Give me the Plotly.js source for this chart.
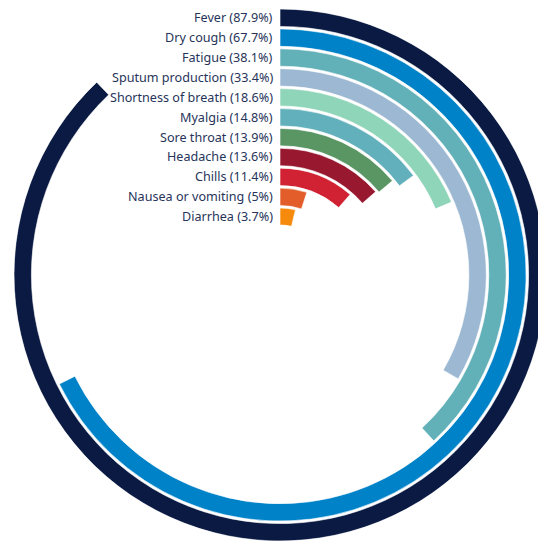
<!DOCTYPE html>
<html>
<head>
<meta charset="utf-8">
<script src="https://cdn.plot.ly/plotly-3.0.1.min.js"></script>
<style>
  html, body { margin: 0; padding: 0; overflow: hidden; background: #fff; }
  #chart { width: 560px; height: 542px; }
</style>
</head>
<body>
<div id="chart"></div>
<script>
// Symptom prevalence, outermost ring first
const symptoms = ["Fever", "Dry cough", "Fatigue", "Sputum production", "Shortness of breath",
  "Myalgia", "Sore throat", "Headache", "Chills", "Nausea or vomiting", "Diarrhea"];
const percents = [87.9, 67.7, 38.1, 33.4, 18.6, 14.8, 13.9, 13.6, 11.4, 5, 3.7];
const colors = ["#0a1a42", "#0082c8", "#62b0b8", "#9db8d3", "#8fd5b9",
  "#62b0bb", "#5a9664", "#98192f", "#d12233", "#e35d2a", "#f58a0c"];

// Ring geometry (in radial-axis units, which equal pixels here)
const W = 560, H = 542;
const cx = 280, cy = 275;
const outerR = 266, innerR = 50;
const pitch = 19.9, thick = 17.4;

const traces = symptoms.map((name, i) => {
  const outer = outerR - i * pitch;
  return {
    type: "barpolar",
    name: name,
    r: [thick],
    base: [outer - thick],
    theta: [percents[i] * 3.6 / 2],
    width: [percents[i] * 3.6],
    marker: { color: colors[i], line: { color: "#ffffff", width: 0.6 } },
    hoverinfo: "skip"
  };
});

const annotations = symptoms.map((name, i) => {
  const mid = outerR - i * pitch - thick / 2;
  return {
    xref: "paper", yref: "paper",
    x: (cx - 5) / W, y: 1 - (cy - mid) / H,
    xanchor: "right", yanchor: "middle",
    text: name + " (" + percents[i] + "%)",
    showarrow: false,
    font: { family: "'Noto Sans', sans-serif", size: 12.6, color: "#27345a" }
  };
});

const layout = {
  width: W, height: H,
  margin: { l: 0, r: 0, t: 0, b: 0 },
  paper_bgcolor: "#ffffff",
  showlegend: false,
  annotations: annotations,
  polar: {
    domain: { x: [(cx - outerR) / W, (cx + outerR) / W], y: [1 - (cy + outerR) / H, 1 - (cy - outerR) / H] },
    hole: innerR / outerR,
    bgcolor: "rgba(0,0,0,0)",
    barmode: "overlay",
    radialaxis: { range: [innerR, outerR], visible: false, showgrid: false },
    angularaxis: { direction: "clockwise", rotation: 90, visible: false, showgrid: false, showline: false, ticks: "" }
  }
};

Plotly.newPlot("chart", traces, layout, { staticPlot: true, displayModeBar: false });
</script>
</body>
</html>
